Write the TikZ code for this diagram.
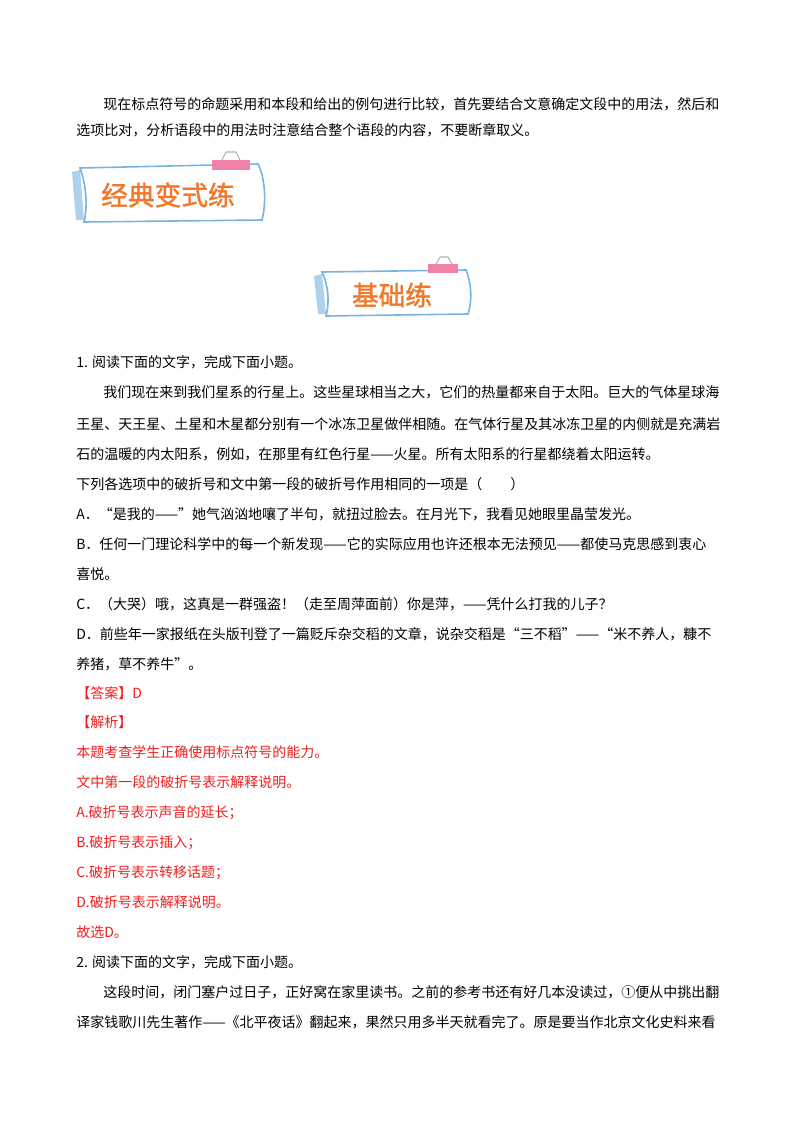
\documentclass[tikz,border=0pt]{standalone}
\usepackage{fontspec}
\newfontfamily\cjk{Noto Sans CJK SC}
\newfontfamily\cjkb{Noto Sans CJK SC}[FakeBold=1.5]
\definecolor{ansred}{RGB}{240,30,30}
\definecolor{bannerorange}{RGB}{240,120,40}
\definecolor{bannerblue}{RGB}{120,180,225}
\definecolor{clippink}{RGB}{240,130,170}
\tikzset{
  ln/.style={anchor=base west,inner sep=0pt,font=\cjk\fontsize{10.5pt}{12pt}\selectfont},
  rd/.style={ln,text=ansred},
  bannertext/.style={anchor=center,inner sep=0pt,text=bannerorange,font=\cjkb\fontsize{20pt}{22pt}\selectfont},
  bannerbox/.style={draw=bannerblue,line width=1.2pt,fill=white},
}
\begin{document}
\begin{tikzpicture}[x=0.75pt,y=-0.75pt]
\useasboundingbox (0,0) rectangle (800,1132);
\node[ln] (p1) at (103,109) {现在标点符号的命题采用和本段和给出的例句进行比较，首先要结合文意确定文段中的用法，然后和};
\node[ln] (p2) at (76,135) {选项比对，分析语段中的用法时注意结合整个语段的内容，不要断章取义。};
% banner 1
\fill[bannerblue!60] (72,172) -- (80,170) -- (84,220) -- (76,220) -- cycle;
\draw[bannerbox] (80,168) -- (258,164) .. controls (266,180) and (266,205) .. (262,220) -- (84,222) .. controls (88,205) and (86,185) .. (80,168) -- cycle;
\fill[clippink] (212,160) rectangle (250,170);
\draw[gray!60,line width=0.8pt] (222,160) -- (226,152) -- (236,152) -- (240,160);
\node[bannertext] (b1) at (168,195) {经典变式练};
% banner 2
\fill[bannerblue!60] (314,276) -- (322,274) -- (326,314) -- (318,314) -- cycle;
\draw[bannerbox] (322,272) -- (466,270) .. controls (472,285) and (472,302) .. (468,314) -- (326,316) .. controls (330,300) and (328,285) .. (322,272) -- cycle;
\fill[clippink] (428,264) rectangle (458,273);
\draw[gray!60,line width=0.8pt] (436,264) -- (440,257) -- (448,257) -- (452,264);
\node[bannertext] (b2) at (392,295) {基础练};
% question 1
\node[ln] (q1) at (76,367) {1. 阅读下面的文字，完成下面小题。};
\node[ln] (t1) at (103,397) {我们现在来到我们星系的行星上。这些星球相当之大，它们的热量都来自于太阳。巨大的气体星球海};
\node[ln] (t2) at (76,429) {王星、天王星、土星和木星都分别有一个冰冻卫星做伴相随。在气体行星及其冰冻卫星的内侧就是充满岩};
\node[ln] (t3) at (76,459) {石的温暖的内太阳系，例如，在那里有红色行星——火星。所有太阳系的行星都绕着太阳运转。};
\node[ln] (s0) at (76,489) {下列各选项中的破折号和文中第一段的破折号作用相同的一项是（　　）};
\node[ln] (sa) at (76,519) {A．“是我的——”她气汹汹地嚷了半句，就扭过脸去。在月光下，我看见她眼里晶莹发光。};
\node[ln] (sb) at (76,549) {B．任何一门理论科学中的每一个新发现——它的实际应用也许还根本无法预见——都使马克思感到衷心};
\node[ln] (sb2) at (76,579) {喜悦。};
\node[ln] (sc) at (76,609) {C．（大哭）哦，这真是一群强盗！（走至周萍面前）你是萍，——凭什么打我的儿子？};
\node[ln] (sd) at (76,639) {D．前些年一家报纸在头版刊登了一篇贬斥杂交稻的文章，说杂交稻是“三不稻”——“米不养人，糠不};
\node[ln] (sd2) at (76,669) {养猪，草不养牛”。};
\node[rd] (ans) at (76,698) {【答案】D};
\node[rd] (jx) at (76,727) {【解析】};
\node[rd] (r1) at (76,757) {本题考查学生正确使用标点符号的能力。};
\node[rd] (r2) at (76,787) {文中第一段的破折号表示解释说明。};
\node[rd] (r3) at (76,817) {A.破折号表示声音的延长；};
\node[rd] (r4) at (76,847) {B.破折号表示插入；};
\node[rd] (r5) at (76,877) {C.破折号表示转移话题；};
\node[rd] (r6) at (76,907) {D.破折号表示解释说明。};
\node[rd] (r7) at (76,937) {故选D。};
\node[ln] (q2) at (76,967) {2. 阅读下面的文字，完成下面小题。};
\node[ln] (u1) at (103,997) {这段时间，闭门塞户过日子，正好窝在家里读书。之前的参考书还有好几本没读过，①便从中挑出翻};
\node[ln] (u2) at (76,1027) {译家钱歌川先生著作——《北平夜话》翻起来，果然只用多半天就看完了。原是要当作北京文化史料来看};
\end{tikzpicture}
\end{document}
